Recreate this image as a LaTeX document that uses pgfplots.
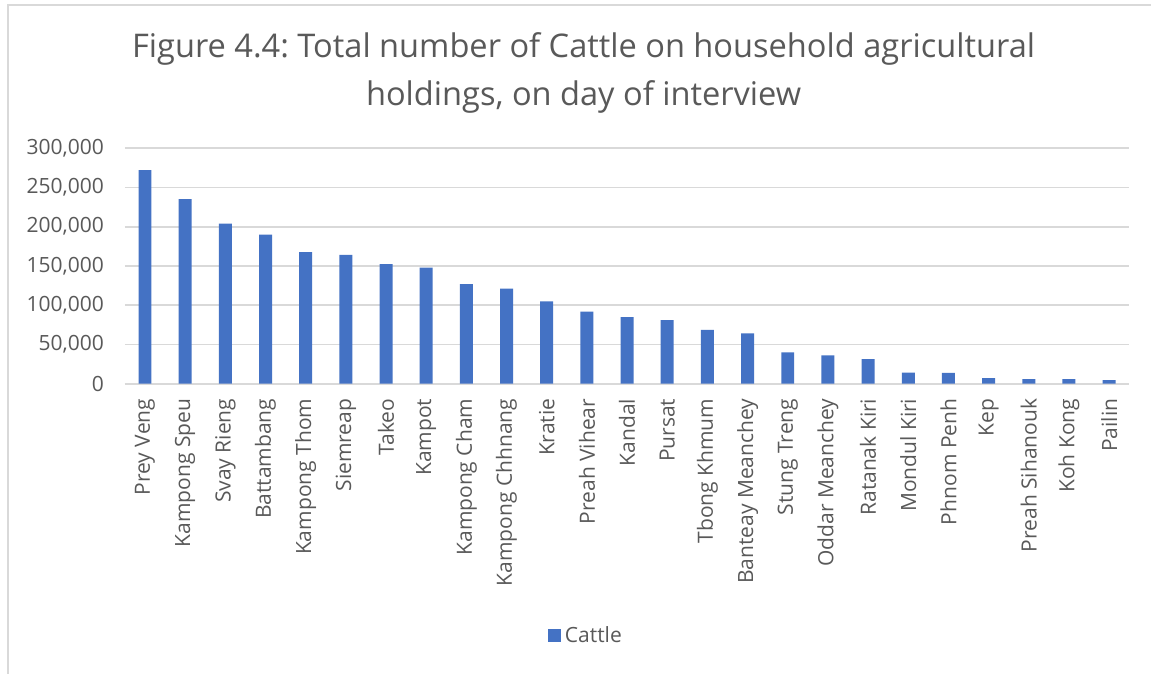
\documentclass[border=0pt]{standalone}
\usepackage{fontspec}
\setmainfont{Open Sans}
\usepackage{pgfplots}
\pgfplotsset{compat=1.18}
\definecolor{barblue}{HTML}{4472C4}
\definecolor{txtgray}{HTML}{595959}
\definecolor{gridgray}{HTML}{D9D9D9}
\frenchspacing
% pixel of the reference -> picture coordinates (axis box lower left at px 125,384)
\newcommand\px[2]{({(#1-125)*0.5pt},{(384-#2)*0.5pt})}
\begin{document}
\begin{tikzpicture}
\fill[white] \px{0}{674} rectangle \px{1152}{0};
\draw[gridgray, line width=0.8pt] \px{8}{674} -- \px{8}{5} -- \px{1152}{5};
\begin{axis}[
  scale only axis, width=502.5pt, height=117.85pt,
  ybar, bar width=6.5pt,
  xmin=-0.5, xmax=24.5, ymin=0, ymax=300000,
  xtick=data,
  xticklabels={Prey Veng,Kampong Speu,Svay Rieng,Battambang,Kampong Thom,Siemreap,Takeo,Kampot,Kampong Cham,Kampong Chhnang,Kratie,Preah Vihear,Kandal,Pursat,Tbong Khmum,Banteay Meanchey,Stung Treng,Oddar Meanchey,Ratanak Kiri,Mondul Kiri,Phnom Penh,Kep,Preah Sihanouk,Koh Kong,Pailin},
  xticklabel style={rotate=90, anchor=east, font=\fontsize{10.5}{12}\selectfont, text=txtgray, xshift=-4pt},
  ytick={0,50000,...,300000},
  scaled y ticks=false,
  yticklabel style={font=\fontsize{10.5}{12}\selectfont, text=txtgray, xshift=-7pt},
  /pgf/number format/.cd, fixed, 1000 sep={,}, assume math mode=true,
  /pgfplots/.cd,
  major tick length=0pt,
  axis lines*=left,
  x axis line style={gridgray, line width=0.8pt, -},
  y axis line style={draw=none},
  ymajorgrids, grid style={gridgray, line width=0.8pt},
  legend style={at={(0.46,-1.07)}, anchor=center, draw=none, fill=none,
    font=\fontsize{10.5}{12}\selectfont, text=txtgray},
  legend image code/.code={\fill[barblue] (0pt,-3.25pt) rectangle (6.5pt,3.25pt);},
]
\addplot[fill=barblue, draw=none] coordinates {
(0,272000) (1,235000) (2,204000) (3,190000) (4,167500) (5,164000) (6,152500)
(7,148000) (8,127000) (9,121000) (10,105000) (11,92000) (12,85000) (13,81000)
(14,68500) (15,64000) (16,40000) (17,36000) (18,31500) (19,14000) (20,13800)
(21,7000) (22,5800) (23,5800) (24,4500)};
\legend{Cattle}
\end{axis}
\node[text=txtgray, font=\fontsize{16.3}{24.5}\selectfont, align=center] at \px{584}{73}
  {Figure 4.4: Total number of Cattle on household agricultural\\holdings, on day of interview};
\end{tikzpicture}
\end{document}
